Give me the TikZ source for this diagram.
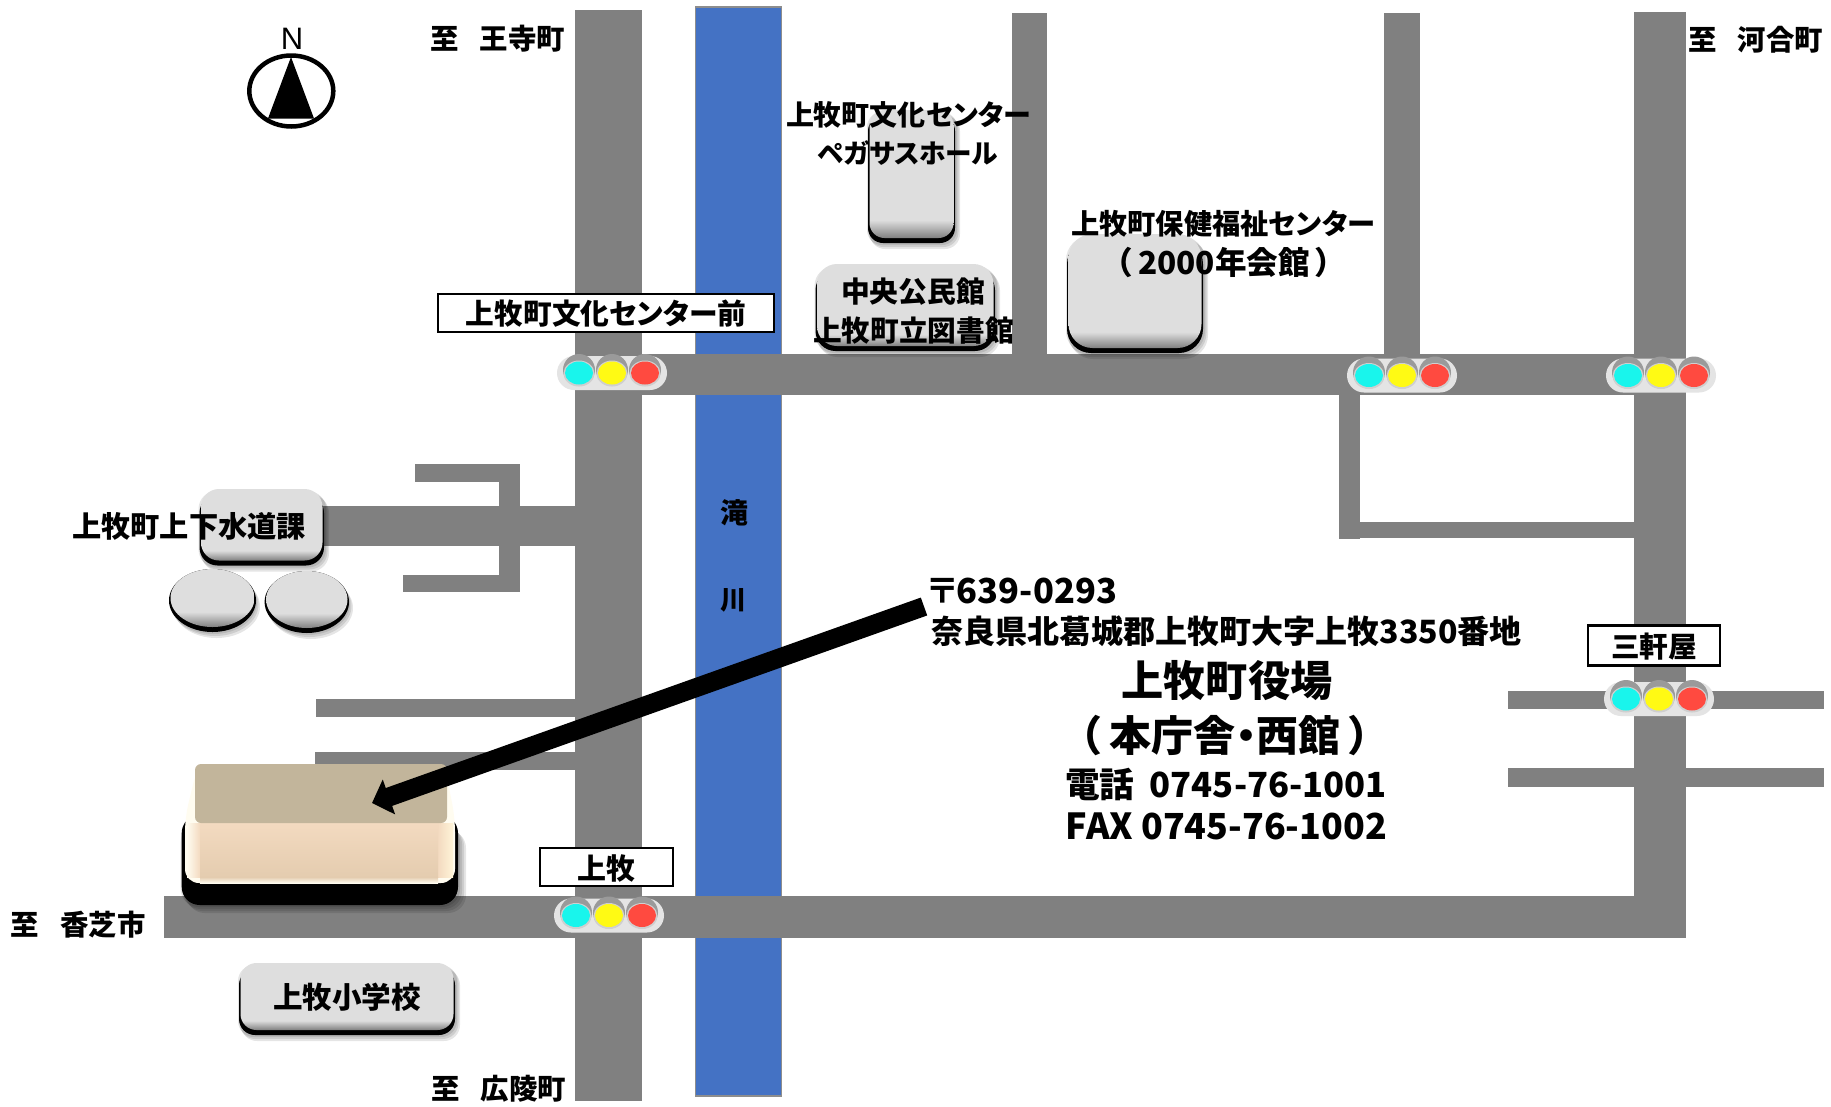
\documentclass[tikz,border=0pt]{standalone}
\usepackage{graphicx}
\usepackage{fontspec}
\setmainfont[RawFeature={+palt},BoldFont={Noto Sans CJK JP Black}]{Noto Sans CJK JP}
\newfontfamily\latinN{Liberation Sans}
\usetikzlibrary{arrows.meta,shapes.geometric}
\definecolor{road}{HTML}{808080}
\definecolor{river}{HTML}{4472C4}
\definecolor{btnL}{HTML}{DEDEDE}
\definecolor{btnB}{HTML}{808080}
\definecolor{sigbase}{HTML}{E4E4E4}
\definecolor{sighalo}{HTML}{9A9A9A}
\definecolor{sigrim}{HTML}{CFCFCF}
\definecolor{lcyan}{HTML}{19F5EC}
\definecolor{lyellow}{HTML}{FFFA14}
\definecolor{lred}{HTML}{FF4A40}
\definecolor{hallTop}{HTML}{C2B59B}
\definecolor{hallF1}{HTML}{F3DAC0}
\definecolor{hallF2}{HTML}{E4CCAF}
\definecolor{hallBL}{HTML}{FFFCF0}
\definecolor{hallBR}{HTML}{FFF4D8}
\pgfdeclareverticalshading{btnface}{100bp}{color(0bp)=(btnB); color(25bp)=(btnB); color(32bp)=(btnL); color(100bp)=(btnL)}
\pgfdeclareverticalshading{ovalface}{100bp}{color(0bp)=(btnB); color(25bp)=(btnB); color(38bp)=(btnL); color(100bp)=(btnL)}
\tikzset{
  roadfill/.style={fill=road,draw=none},
  txt/.style={inner sep=0pt,outer sep=0pt,text=black,font=\bfseries\fontsize{30pt}{30pt}\selectfont},
  signbox/.style={draw=black,line width=2.6pt,fill=white},
  softshadow/.style={fill=black,fill opacity=0.10,draw=none},
}
\newcommand\fw[2]{\resizebox{#1pt}{!}{#2}}
% rounded bevelled block: x1 y1 x2 y2 radius
\newcommand\bevelblock[5]{%
  \foreach \sp/\sq in {5/6,3.5/4,2/2}{%
    \path[softshadow,rounded corners=#5pt] (#1+\sp-3,#2+\sq) rectangle (#3+\sp,#4+\sq);}
  \fill[black,rounded corners=#5pt] (#1,#2+6) rectangle (#3,#4);
  \path[shading=btnface,rounded corners=#5pt] (#1+1.5,#2) rectangle (#3-1.5,#4-5);
}
\newcommand\bevelellipse[4]{%
  \foreach \sp/\sq in {5/6,3.5/4,2/2}{%
    \path[softshadow] (#1+\sp-1,#2+\sq) ellipse [x radius=#3pt,y radius=#4pt];}
  \fill[black] (#1,#2) ellipse [x radius=#3pt,y radius=#4pt];
  \path[shading=ovalface] (#1,#2-2.5) ellipse [x radius=#3pt-1.5pt,y radius=#4pt-2.5pt];
}
% traffic signal: centre x, y
\newcommand\signal[2]{%
  \fill[sigbase,rounded corners=17pt] (#1-55,#2-17) rectangle (#1+55,#2+17);
  \foreach \dx/\col in {-33/lcyan,0/lyellow,33/lred}{%
    \fill[sighalo] (#1+\dx,#2-3) ellipse [x radius=16pt,y radius=16pt];
    \fill[sigrim] (#1+\dx,#2+0.5) ellipse [x radius=15.5pt,y radius=13pt];
    \fill[\col] (#1+\dx,#2) ellipse [x radius=14pt,y radius=11.5pt];}
}
\begin{document}
\begin{tikzpicture}[x=1pt,y=-1pt]
\useasboundingbox (0,0) rectangle (1831,1106);
\fill[white] (0,0) rectangle (1831,1106);
% river
\path[fill=river,draw=road!90,line width=1.5pt] (695.5,7) rectangle (781.5,1096);
% roads
\path[roadfill] (575,10) rectangle (642,1101);
\path[roadfill] (575,354) rectangle (1686,394.5);
\path[roadfill] (1012,13) rectangle (1047,354);
\path[roadfill] (1384,13) rectangle (1420,354);
\path[roadfill] (1634,12) rectangle (1686,938);
\path[roadfill] (164,896) rectangle (1686,938);
\path[roadfill] (1339,394) rectangle (1360,538.5);
\path[roadfill] (1360,522) rectangle (1634,538);
\path[roadfill] (1508,690.5) rectangle (1824,708.5);
\path[roadfill] (1508,768) rectangle (1824,787);
\path[roadfill] (300,506) rectangle (575,546);
\path[roadfill] (499,464) rectangle (520,592);
\path[roadfill] (415,464) rectangle (520,481.5);
\path[roadfill] (403,574.5) rectangle (520,592);
\path[roadfill] (316,698.5) rectangle (575,716.5);
\path[roadfill] (314.5,752) rectangle (575,770);
% compass
\draw[black,line width=4.5pt] (291.3,91) ellipse [x radius=42pt,y radius=35.5pt];
\fill[black] (291,57) -- (314,118.5) -- (268,118.5) -- cycle;
\node[inner sep=0pt,font=\latinN\fontsize{31pt}{31pt}\selectfont] (north) at (292,38.5) {N};
% buildings
\bevelblock{868}{110}{955}{243}{15}
\bevelblock{815.5}{264}{995}{351}{20}
\bevelblock{1067}{234}{1203}{353}{24}
\bevelblock{199.5}{489}{324}{565.5}{18}
\bevelellipse{212.5}{600.5}{43.5}{31.5}
\bevelellipse{306.8}{602}{42.2}{31}
\bevelblock{239}{963}{455}{1035}{16}
% town hall
\foreach \sp/\sq in {8/8,6/6,4/4,2/2}{%
  \path[softshadow,rounded corners=18pt] (181.7+\sp-3,822+\sq) rectangle (458+\sp,905+\sq);}
\fill[black,rounded corners=18pt] (181.7,815) rectangle (458,905);
\fill[hallBL,rounded corners=14pt] (197,768) -- (185,818) -- (185,883) -- (455,883) -- (455,818) -- (445,768) -- cycle;
\path[left color=hallBL,right color=hallF1] (187,823) rectangle (200,877);
\path[left color=hallF1,right color=hallBR] (438,823) rectangle (453,877);
\path[top color=hallF1,bottom color=hallF2] (200,823) rectangle (438,877);
\path[top color=hallF2,bottom color=hallBL] (200,877) rectangle (438,883);
\fill[hallTop,rounded corners=6pt] (195,764) rectangle (447,823);
% signals
\signal{612}{373}
\signal{1402}{375.5}
\signal{1661}{375.5}
\signal{1659}{699}
\signal{609}{915.5}
% signal name plates
\node[signbox,minimum width=336pt,minimum height=38pt,inner sep=0pt,anchor=center] (plateA) at (606,313) {};
\node[txt] (plateAt) at (606,314) {\fw{280}{上牧町文化センター前}};
\node[signbox,minimum width=133pt,minimum height=38pt,inner sep=0pt] (plateB) at (606.5,867) {};
\node[txt] (plateBt) at (606.5,868) {\fw{58}{上牧}};
\node[signbox,minimum width=132pt,minimum height=40pt,inner sep=0pt] (plateC) at (1654,645.5) {};
\node[txt] (plateCt) at (1654,646.5) {\fw{86}{三軒屋}};
% arrow
\coordinate (arrowtail) at (924,606.5);
\coordinate (arrowtip) at (372,803);
\draw[black,line width=19pt,-{Triangle[length=18pt,width=36pt]}] (arrowtail) -- (arrowtip);
% labels
\node[txt] (toA) at (497.5,39) {\fw{135}{至\hspace{0.75em}王寺町}};
\node[txt] (toB) at (1755.5,40) {\fw{135}{至\hspace{0.75em}河合町}};
\node[txt] (toC) at (78,925) {\fw{135}{至\hspace{0.75em}香芝市}};
\node[txt] (toD) at (498.5,1089) {\fw{135}{至\hspace{0.75em}広陵町}};
\node[txt] (peg1) at (908.5,114.5) {\fw{245}{上牧町文化センター}};
\node[txt] (peg2) at (908,153) {\fw{180}{ペガサスホール}};
\node[txt] (lib1) at (913,292) {\fw{144}{中央公民館}};
\node[txt] (lib2) at (913.5,331) {\fw{201}{上牧町立図書館}};
\node[txt] (hok1) at (1223,224) {\fw{304}{上牧町保健福祉センター}};
\node[txt] (hok2) at (1224,262) {\fw{216}{（\hspace{0.2em}2000年会館\hspace{0.2em}）}};
\node[txt] (gesui) at (189,526.5) {\fw{234}{上牧町上下水道課}};
\node[txt] (rivA) at (734.5,513) {\fw{28}{滝}};
\node[txt] (rivB) at (733,600.5) {\fw{26}{川}};
\node[txt] (post) at (1022.5,590.5) {\fw{189}{〒639-0293}};
\node[txt] (addr) at (1226.5,631.5) {\fw{591}{奈良県北葛城郡上牧町大字上牧3350番地}};
\node[txt] (hall1) at (1227,681) {\fw{211}{上牧町役場}};
\node[txt] (hall2) at (1225,735.5) {\fw{290}{（\hspace{0.2em}本庁舎・西館\hspace{0.2em}）}};
\node[txt] (tel) at (1226,784) {\fw{322}{電話\hspace{0.45em}0745-76-1001}};
\node[txt] (fax) at (1226.5,826) {\fw{321}{FAX 0745-76-1002}};
\node[txt] (school) at (347,997.5) {\fw{148}{上牧小学校}};
\end{tikzpicture}
\end{document}
